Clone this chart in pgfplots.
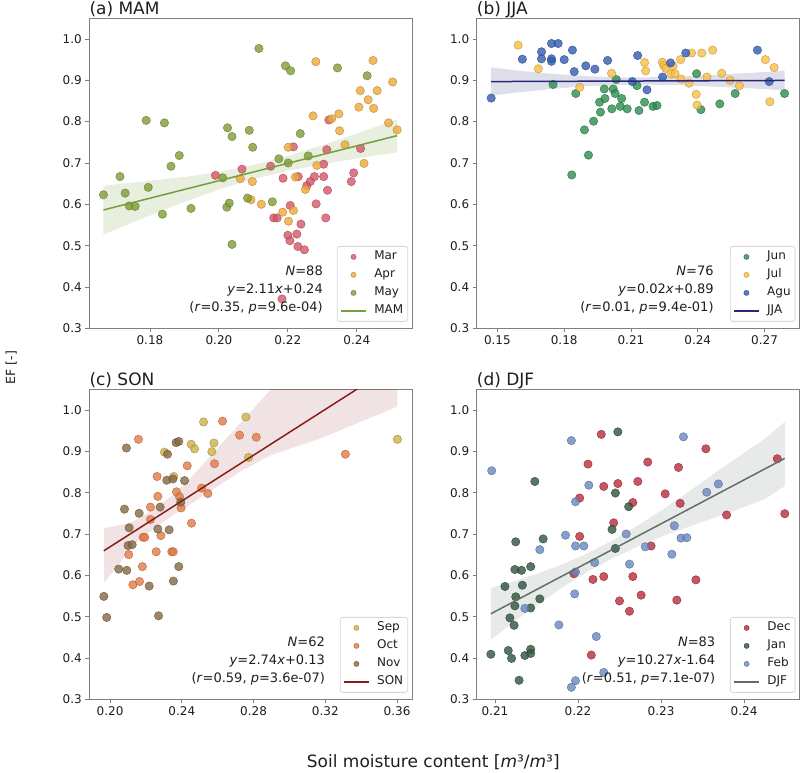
\documentclass[border=0pt]{standalone}
\usepackage{pgfplots}
\pgfplotsset{compat=1.18}
\usepackage{fontspec}
\setmainfont{DejaVu Sans}

\definecolor{Mar}{RGB}{214,86,106}
\definecolor{Apr}{RGB}{238,168,56}
\definecolor{May}{RGB}{128,156,52}
\definecolor{MAMline}{RGB}{118,158,58}
\definecolor{Jun}{RGB}{46,140,80}
\definecolor{Jul}{RGB}{247,190,70}
\definecolor{Agu}{RGB}{48,92,176}
\definecolor{JJAline}{RGB}{40,40,120}
\definecolor{Sep}{RGB}{204,178,72}
\definecolor{Oct}{RGB}{226,122,70}
\definecolor{Nov}{RGB}{132,104,68}
\definecolor{SONline}{RGB}{140,28,28}
\definecolor{Dec}{RGB}{184,44,58}
\definecolor{Jan}{RGB}{46,84,62}
\definecolor{Feb}{RGB}{104,136,192}
\definecolor{DJFline}{RGB}{96,112,104}
\definecolor{axgray}{RGB}{128,128,128}
\definecolor{legbord}{RGB}{215,215,215}
\definecolor{txt}{RGB}{30,30,30}

\tikzset{ann/.style={anchor=base east, inner sep=0pt, font=\fontsize{13}{13}\selectfont, text=txt}}

\pgfplotsset{
  sc/.style={only marks, mark=*, color=#1!78!black, mark size=4.2pt,
    mark options={fill=#1, fill opacity=0.8, draw opacity=0.8, line width=0.5pt},
    legend image code/.code={\path[draw=none,fill=none] (0pt,-0.5pt) rectangle (25pt,0.5pt); \draw[##1, mark size=2.6pt] plot coordinates {(12.5pt,0pt)};}},
  fit/.style={color=#1, line width=1.5pt,
    legend image code/.code={\draw[##1] (0pt,0pt) -- (25pt,0pt);}},
  band/.style n args={2}{draw=none, fill=#1, fill opacity=#2, forget plot},
  panel/.style={
    scale only axis, width=323pt, height=310pt, anchor=south west,
    ymin=0.3, ymax=1.05, ytick={0.3,0.4,0.5,0.6,0.7,0.8,0.9,1.0},
    scaled ticks=false,
    tick pos=left, tick align=outside, major tick length=4pt,
    axis line style={draw=axgray, line width=1.1pt},
    every tick/.style={draw=axgray, line width=0.9pt},
    tick label style={font=\fontsize{12}{12}\selectfont, text=txt},
    /pgf/number format/assume math mode=true,
    y tick label style={/pgf/number format/fixed, /pgf/number format/fixed zerofill, /pgf/number format/precision=1},
    x tick label style={/pgf/number format/fixed, /pgf/number format/fixed zerofill, /pgf/number format/precision=2},
    title style={at={(0,1)}, anchor=base west, yshift=-2.5pt, inner sep=0pt, font=\fontsize{17}{17}\selectfont, text=txt},
    clip mode=individual,
    legend cell align=left,
    legend style={at={(0.987,0.021)}, anchor=south east, draw=legbord, line width=0.8pt,
      rounded corners=2.5pt, fill=white, fill opacity=0.8, text opacity=1,
      font=\fontsize{12}{12}\selectfont, text=txt, row sep=3pt, column sep=6pt,
      inner xsep=3pt, inner ysep=3pt,
      nodes={inner sep=1.5pt, text height=9pt, text depth=3pt}},
  },
}

\begin{document}
\begin{tikzpicture}
\useasboundingbox (0pt,0pt) rectangle (800pt,772pt);

% ---------------- (a) MAM
\begin{axis}[panel, at={(89.3pt,443.7pt)}, xmin=0.1624, xmax=0.2561,
  xtick={0.18,0.20,0.22,0.24}, title={(a) MAM}]
\addplot[band={MAMline}{0.17}] coordinates {(0.1665,0.645) (0.18,0.657) (0.19,0.666) (0.20,0.678) (0.21,0.695) (0.22,0.717) (0.23,0.743) (0.24,0.771) (0.2517,0.806)
  (0.2517,0.726) (0.24,0.711) (0.23,0.697) (0.22,0.681) (0.21,0.661) (0.20,0.636) (0.19,0.606) (0.18,0.573) (0.1665,0.527)};
\addplot[sc=Mar] coordinates {(0.1990,0.670) (0.2067,0.685) (0.2150,0.692) (0.2159,0.567) (0.2169,0.567) (0.2186,0.663) (0.2183,0.371) (0.2200,0.525) (0.2206,0.512) (0.2207,0.597) (0.2216,0.739) (0.2226,0.528) (0.2229,0.498) (0.2230,0.667) (0.2238,0.552) (0.2248,0.490) (0.2255,0.645) (0.2265,0.655) (0.2277,0.667) (0.2282,0.601) (0.2304,0.697) (0.2304,0.667) (0.2310,0.567) (0.2313,0.732) (0.2315,0.634) (0.2319,0.804) (0.2384,0.655) (0.2391,0.676) (0.2411,0.735)};
\addlegendentry{Mar}
\addplot[sc=Apr] coordinates {(0.2281,0.945) (0.2062,0.662) (0.2093,0.611) (0.2097,0.655) (0.2123,0.600) (0.2185,0.581) (0.2201,0.738) (0.2202,0.559) (0.2216,0.585) (0.2222,0.666) (0.2251,0.636) (0.2273,0.814) (0.2284,0.694) (0.2327,0.807) (0.2348,0.819) (0.2350,0.778) (0.2366,0.744) (0.2406,0.835) (0.2410,0.875) (0.2421,0.699) (0.2433,0.853) (0.2449,0.832) (0.2447,0.948) (0.2459,0.875) (0.2504,0.896) (0.2492,0.797) (0.2517,0.780)};
\addlegendentry{Apr}
\addplot[sc=May] coordinates {(0.1665,0.623) (0.1713,0.667) (0.1728,0.627) (0.1740,0.596) (0.1757,0.595) (0.1789,0.803) (0.1795,0.641) (0.1836,0.576) (0.1842,0.797) (0.1861,0.692) (0.1885,0.718) (0.1919,0.590) (0.2011,0.664) (0.2023,0.593) (0.2025,0.785) (0.2030,0.603) (0.2038,0.764) (0.2038,0.503) (0.2083,0.615) (0.2088,0.779) (0.2098,0.738) (0.2116,0.977) (0.2155,0.606) (0.2174,0.710) (0.2193,0.935) (0.2201,0.700) (0.2208,0.923) (0.2236,0.771) (0.2259,0.717) (0.2344,0.930) (0.2430,0.911)};
\addlegendentry{May}
\addplot[fit=MAMline] coordinates {(0.1665,0.5863) (0.2517,0.7661)};
\addlegendentry{MAM}
\node[ann] at (rel axis cs:0.7235,0.1706) {\textit{N}=88};
\node[ann] at (rel axis cs:0.7235,0.1126) {\textit{y}=2.11\textit{x}+0.24};
\node[ann] at (rel axis cs:0.7235,0.0526) {(\textit{r}=0.35, \textit{p}=9.6e-04)};
\end{axis}

% ---------------- (b) JJA
\begin{axis}[panel, at={(476.7pt,443.7pt)}, xmin=0.1407, xmax=0.2858,
  xtick={0.15,0.18,0.21,0.24,0.27}, title={(b) JJA}]
\addplot[band={JJAline}{0.15}] coordinates {(0.1472,0.931) (0.16,0.923) (0.175,0.9155) (0.19,0.910) (0.205,0.907) (0.22,0.9074) (0.235,0.9097) (0.25,0.914) (0.265,0.9183) (0.279,0.9236)
  (0.279,0.8756) (0.265,0.8803) (0.25,0.884) (0.235,0.8877) (0.22,0.8894) (0.205,0.889) (0.19,0.886) (0.175,0.8795) (0.16,0.871) (0.1472,0.863)};
\addplot[sc=Jun] coordinates {(0.1750,0.890) (0.1852,0.868) (0.1834,0.671) (0.1891,0.780) (0.1909,0.719) (0.1932,0.801) (0.1959,0.847) (0.1963,0.823) (0.1980,0.879) (0.1983,0.856) (0.2014,0.831) (0.2020,0.879) (0.2029,0.868) (0.2034,0.902) (0.2052,0.837) (0.2058,0.856) (0.2083,0.831) (0.2127,0.887) (0.2136,0.827) (0.2161,0.847) (0.2199,0.837) (0.2217,0.839) (0.2395,0.916) (0.2414,0.829) (0.2499,0.843) (0.2568,0.868) (0.2790,0.868)};
\addlegendentry{Jun}
\addplot[sc=Jul] coordinates {(0.1593,0.985) (0.1684,0.928) (0.1870,0.883) (0.2013,0.917) (0.2161,0.943) (0.2166,0.923) (0.2241,0.944) (0.2247,0.936) (0.2256,0.929) (0.2280,0.915) (0.2289,0.935) (0.2298,0.916) (0.2323,0.950) (0.2325,0.903) (0.2372,0.966) (0.2361,0.893) (0.2393,0.866) (0.2397,0.840) (0.2418,0.966) (0.2441,0.908) (0.2467,0.973) (0.2508,0.917) (0.2545,0.900) (0.2587,0.887) (0.2704,0.950) (0.2743,0.931) (0.2724,0.848)};
\addlegendentry{Jul}
\addplot[sc=Agu] coordinates {(0.1472,0.857) (0.1612,0.951) (0.1698,0.969) (0.1698,0.952) (0.1743,0.989) (0.1743,0.952) (0.1743,0.946) (0.1773,0.989) (0.1800,0.950) (0.1837,0.973) (0.1845,0.921) (0.1897,0.935) (0.1938,0.927) (0.1995,0.948) (0.2106,0.897) (0.2130,0.960) (0.2172,0.877) (0.2242,0.908) (0.2278,0.942) (0.2346,0.966) (0.2668,0.973) (0.2721,0.897)};
\addlegendentry{Agu}
\addplot[fit=JJAline] coordinates {(0.1472,0.8969) (0.2790,0.8996)};
\addlegendentry{JJA}
\node[ann] at (rel axis cs:0.734,0.1706) {\textit{N}=76};
\node[ann] at (rel axis cs:0.734,0.1126) {\textit{y}=0.02\textit{x}+0.89};
\node[ann] at (rel axis cs:0.734,0.0526) {(\textit{r}=0.01, \textit{p}=9.4e-01)};
\end{axis}

% ---------------- (c) SON
\begin{axis}[panel, at={(89.3pt,72.7pt)}, xmin=0.1884, xmax=0.3685,
  xtick={0.20,0.24,0.28,0.32,0.36}, title={(c) SON}]
\addplot[band={SONline}{0.12}] coordinates {(0.1965,0.714) (0.21,0.725) (0.2167,0.738) (0.235,0.794) (0.2447,0.835) (0.2726,0.968) (0.2893,1.048) (0.3172,1.18) (0.3602,1.39)
  (0.3602,1.008) (0.3172,0.931) (0.2893,0.890) (0.2726,0.851) (0.2447,0.772) (0.235,0.746) (0.2167,0.688) (0.21,0.655) (0.1965,0.581)};
\addplot[sc=Sep] coordinates {(0.2303,0.898) (0.2355,0.839) (0.2452,0.917) (0.2471,0.906) (0.2521,0.971) (0.2567,0.899) (0.2579,0.920) (0.2757,0.983) (0.2772,0.885) (0.3602,0.929)};
\addlegendentry{Sep}
\addplot[sc=Oct] coordinates {(0.2158,0.929) (0.2104,0.650) (0.2127,0.577) (0.2164,0.585) (0.2180,0.621) (0.2184,0.692) (0.2193,0.692) (0.2225,0.765) (0.2225,0.735) (0.2257,0.657) (0.2262,0.839) (0.2266,0.791) (0.2283,0.696) (0.2344,0.657) (0.2352,0.657) (0.2370,0.802) (0.2387,0.790) (0.2396,0.763) (0.2430,0.865) (0.2454,0.726) (0.2510,0.811) (0.2545,0.798) (0.2582,0.870) (0.2627,0.973) (0.2722,0.939) (0.2815,0.934) (0.3312,0.893)};
\addlegendentry{Oct}
\addplot[sc=Nov] coordinates {(0.1965,0.549) (0.1981,0.498) (0.2048,0.615) (0.2080,0.760) (0.2091,0.908) (0.2093,0.612) (0.2100,0.672) (0.2106,0.715) (0.2123,0.674) (0.2162,0.750) (0.2218,0.574) (0.2266,0.712) (0.2270,0.502) (0.2279,0.765) (0.2316,0.830) (0.2320,0.893) (0.2329,0.710) (0.2350,0.833) (0.2353,0.586) (0.2368,0.921) (0.2383,0.924) (0.2383,0.621) (0.2394,0.777) (0.2415,0.829)};
\addlegendentry{Nov}
\addplot[fit=SONline] coordinates {(0.1965,0.6593) (0.3602,1.1128)};
\addlegendentry{SON}
\node[ann] at (rel axis cs:0.730,0.1706) {\textit{N}=62};
\node[ann] at (rel axis cs:0.730,0.1126) {\textit{y}=2.74\textit{x}+0.13};
\node[ann] at (rel axis cs:0.730,0.0526) {(\textit{r}=0.59, \textit{p}=3.6e-07)};
\end{axis}

% ---------------- (d) DJF
\begin{axis}[panel, at={(476.7pt,72.7pt)}, xmin=0.2078, xmax=0.2467,
  xtick={0.21,0.22,0.23,0.24}, title={(d) DJF}]
\addplot[band={DJFline}{0.15}] coordinates {(0.2095,0.569) (0.2125,0.5868) (0.2155,0.6067) (0.2185,0.6295) (0.2215,0.6564) (0.2245,0.6883) (0.2275,0.7241) (0.2305,0.7629) (0.2335,0.8048) (0.2365,0.8476) (0.2395,0.8895) (0.2425,0.9304) (0.2449,0.971)
  (0.2449,0.816) (0.2425,0.7844) (0.2395,0.7615) (0.2365,0.7396) (0.2335,0.7188) (0.2305,0.6969) (0.2275,0.6721) (0.2245,0.6443) (0.2215,0.6124) (0.2185,0.5755) (0.2155,0.5347) (0.2125,0.4908) (0.2095,0.444)};
\addplot[sc=Dec] coordinates {(0.2195,0.604) (0.2202,0.787) (0.2202,0.694) (0.2212,0.869) (0.2216,0.407) (0.2218,0.590) (0.2228,0.941) (0.2231,0.815) (0.2231,0.597) (0.2243,0.727) (0.2248,0.822) (0.2250,0.538) (0.2262,0.513) (0.2266,0.776) (0.2266,0.597) (0.2272,0.827) (0.2276,0.552) (0.2284,0.874) (0.2288,0.671) (0.2305,0.797) (0.2319,0.540) (0.2321,0.861) (0.2323,0.774) (0.2342,0.589) (0.2354,0.906) (0.2379,0.746) (0.2440,0.882) (0.2449,0.749)};
\addlegendentry{Dec}
\addplot[sc=Jan] coordinates {(0.2095,0.409) (0.2112,0.573) (0.2116,0.418) (0.2118,0.497) (0.2120,0.399) (0.2123,0.479) (0.2124,0.526) (0.2124,0.614) (0.2125,0.548) (0.2125,0.681) (0.2129,0.346) (0.2132,0.612) (0.2133,0.576) (0.2136,0.406) (0.2143,0.621) (0.2143,0.521) (0.2143,0.421) (0.2143,0.411) (0.2148,0.827) (0.2154,0.543) (0.2158,0.688) (0.2241,0.711) (0.2245,0.799) (0.2245,0.665) (0.2248,0.947) (0.2261,0.766)};
\addlegendentry{Jan}
\addplot[sc=Feb] coordinates {(0.2096,0.853) (0.2136,0.520) (0.2154,0.662) (0.2177,0.480) (0.2185,0.697) (0.2192,0.926) (0.2192,0.329) (0.2196,0.555) (0.2197,0.778) (0.2197,0.671) (0.2197,0.608) (0.2197,0.345) (0.2207,0.671) (0.2213,0.818) (0.2220,0.631) (0.2222,0.452) (0.2231,0.365) (0.2258,0.700) (0.2262,0.627) (0.2281,0.669) (0.2313,0.651) (0.2316,0.720) (0.2324,0.690) (0.2331,0.691) (0.2327,0.935) (0.2355,0.801) (0.2369,0.821)};
\addlegendentry{Feb}
\addplot[fit=DJFline] coordinates {(0.2095,0.5069) (0.2449,0.8829)};
\addlegendentry{DJF}
\node[ann] at (rel axis cs:0.739,0.1706) {\textit{N}=83};
\node[ann] at (rel axis cs:0.739,0.1126) {\textit{y}=10.27\textit{x}-1.64};
\node[ann] at (rel axis cs:0.739,0.0526) {(\textit{r}=0.51, \textit{p}=7.1e-07)};
\end{axis}

\node[anchor=base, rotate=90, inner sep=0pt, font=\fontsize{12.5}{12.5}\selectfont, text=txt] at (15pt,404.5pt) {EF [-]};
\node[anchor=base, inner sep=0pt, font=\fontsize{17}{17}\selectfont, text=txt] at (433.3pt,4.7pt) {Soil moisture content [\textit{m}³/\textit{m}³]};
\end{tikzpicture}
\end{document}
